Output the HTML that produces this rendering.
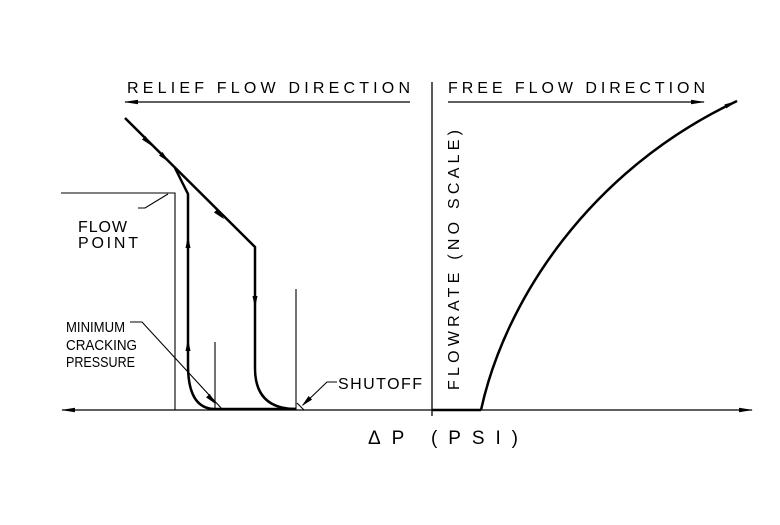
<!DOCTYPE html>
<html><head><style>
html,body{margin:0;padding:0;background:#fff;}
svg text{font-family:"Liberation Sans","DejaVu Sans",sans-serif;fill:#000;}
</style></head><body>
<svg width="780" height="520" viewBox="0 0 780 520" xmlns="http://www.w3.org/2000/svg">
<defs>
<marker id="a" markerWidth="14" markerHeight="6" refX="13" refY="3" orient="auto" markerUnits="userSpaceOnUse"><path d="M0,0.8 L14,3 L0,5.2 Z" fill="#000"/></marker>
</defs>
<g stroke="#000" fill="none">
<line x1="432" y1="410" x2="752" y2="410" stroke-width="1.3" marker-end="url(#a)"/>
<line x1="432" y1="410" x2="62" y2="410" stroke-width="1.3" marker-end="url(#a)"/>
<line x1="432" y1="82" x2="432" y2="416" stroke-width="1.3"/>
<line x1="410" y1="102" x2="125" y2="102" stroke-width="1.3" marker-end="url(#a)"/>
<line x1="448" y1="102" x2="704" y2="102" stroke-width="1.3" marker-end="url(#a)"/>
<path d="M481,410 C505,300 590,170 737,101" stroke-width="2.5" marker-end="url(#a)"/>
<line x1="432" y1="410" x2="481" y2="410" stroke-width="2.5"/>
<path d="M125,118 L255,247 L255,368 Q255,409 296,409" stroke-width="2.5"/>
<path d="M175,168 L188,194 L188,365 Q188,409 215,409 L296,409" stroke-width="2.5"/>
<path d="M61,193 L175,193 L175,410" stroke-width="1.1"/>
<path d="M138,208 L145,208 L168,194" stroke-width="1.1"/>
<line x1="215" y1="342" x2="215" y2="410" stroke-width="1.1"/>
<line x1="296" y1="289" x2="296" y2="410" stroke-width="1.1"/>
<path d="M130,322 L142,322 L222,409" stroke-width="1.1"/>
<path d="M337,382 L327,382 L303,405" stroke-width="1.1"/>
<line x1="297" y1="403" x2="304" y2="410" stroke-width="1.1"/>
</g>
<g fill="#000">
<path d="M6,0 L-6,-2.5 L-6,2.5Z" transform="translate(148,142) rotate(45)"/>
<path d="M6,0 L-6,-2.5 L-6,2.5Z" transform="translate(165,158) rotate(45)"/>
<path d="M6,0 L-6,-2.5 L-6,2.5Z" transform="translate(220,215) rotate(45)"/>
<path d="M6,0 L-6,-2.5 L-6,2.5Z" transform="translate(255,302) rotate(90)"/>
<path d="M6,0 L-6,-2.5 L-6,2.5Z" transform="translate(188,242) rotate(-90)"/>
<path d="M6,0 L-6,-2.5 L-6,2.5Z" transform="translate(188,345) rotate(-90)"/>
<path d="M6,0 L-6,-2.5 L-6,2.5Z" transform="translate(212,400) rotate(47)"/>
<path d="M6,0 L-6,-2.5 L-6,2.5Z" transform="translate(306,402) rotate(136)"/>
</g>
<g font-size="16">
<text x="127" y="93" textLength="283" lengthAdjust="spacing">RELIEF FLOW DIRECTION</text>
<text x="448" y="93" textLength="257" lengthAdjust="spacing">FREE FLOW DIRECTION</text>
<text x="78" y="232" textLength="49" lengthAdjust="spacing">FLOW</text>
<text x="78" y="248" textLength="60" lengthAdjust="spacing">POINT</text>
<text x="66" y="332" font-size="14.5" textLength="59" lengthAdjust="spacingAndGlyphs">MINIMUM</text>
<text x="66" y="350" font-size="14.5" textLength="71" lengthAdjust="spacingAndGlyphs">CRACKING</text>
<text x="66" y="367" font-size="14.5" textLength="69" lengthAdjust="spacingAndGlyphs">PRESSURE</text>
<text x="338" y="389" textLength="84" lengthAdjust="spacing">SHUTOFF</text>
<text x="368" y="444" font-size="19" textLength="150" lengthAdjust="spacing">ΔP (PSI)</text>
<text transform="translate(459,390) rotate(-90)" textLength="260" lengthAdjust="spacing">FLOWRATE (NO SCALE)</text>
</g>
</svg>
</body></html>
